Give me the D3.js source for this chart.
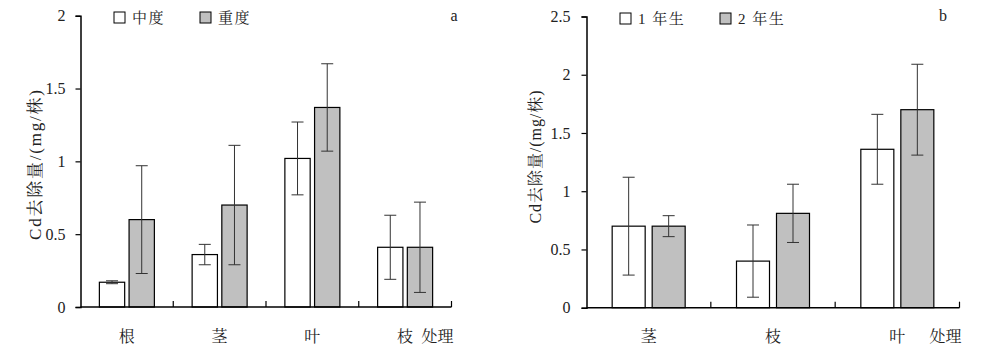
<!DOCTYPE html>
<html>
<head>
<meta charset="utf-8">
<script src="https://cdn.jsdelivr.net/npm/d3@7"></script>
<style>
  body { margin: 0; background: #fff; }
  svg text { font-family: "Liberation Serif", "Noto Serif CJK SC", "Noto Sans CJK SC", serif; fill: #222; }
</style>
</head>
<body>
<div id="chart"></div>
<script>
// panel a
const catsA = ["根", "茎", "叶", "枝"];
const seriesA = ["中度", "重度"];
const meanA = [[0.17, 0.36, 1.02, 0.41], [0.60, 0.70, 1.37, 0.41]];
const errA = [[0.01, 0.07, 0.25, 0.22], [0.37, 0.41, 0.30, 0.31]];
const ticksA = [0, 0.5, 1, 1.5, 2];

// panel b
const catsB = ["茎", "枝", "叶"];
const seriesB = ["1 年生", "2 年生"];
const meanB = [[0.70, 0.40, 1.36], [0.70, 0.81, 1.70]];
const errB = [[0.42, 0.31, 0.30], [0.09, 0.25, 0.39]];
const ticksB = [0, 0.5, 1, 1.5, 2, 2.5];

const colors = ["#ffffff", "#c0c0c0"];

const svg = d3.select("#chart").append("svg")
    .attr("width", 981)
    .attr("height", 352);

function drawPanel(o) {
    const g = svg.append("g");

    const x0 = d3.scaleBand()
        .domain(o.cats)
        .range([o.left, o.right]);

    const x1 = d3.scaleBand()
        .domain(o.series)
        .range([x0.bandwidth() / 2 - o.group / 2, x0.bandwidth() / 2 + o.group / 2])
        .paddingInner(o.inner);

    const y = d3.scaleLinear()
        .domain([0, o.max])
        .range([o.bottom, o.top]);

    const data = o.series.flatMap((s, i) =>
        o.cats.map((c, j) => ({ cat: c, s: s, i: i, v: o.mean[i][j], e: o.err[i][j] })));

    // bars
    g.append("g")
        .selectAll("rect")
        .data(data)
        .join("rect")
        .attr("x", d => x0(d.cat) + x1(d.s))
        .attr("y", d => y(d.v))
        .attr("width", x1.bandwidth())
        .attr("height", d => y(0) - y(d.v))
        .attr("fill", d => colors[d.i])
        .attr("stroke", "#000")
        .attr("stroke-width", 1.2);

    // error bars
    const eb = g.append("g")
        .attr("stroke", "#333")
        .attr("stroke-width", 1)
        .selectAll("g")
        .data(data)
        .join("g")
        .attr("transform", d => `translate(${x0(d.cat) + x1(d.s) + x1.bandwidth() / 2},0)`);
    eb.append("line")
        .attr("y1", d => y(d.v + d.e)).attr("y2", d => y(d.v - d.e));
    eb.append("line")
        .attr("x1", -6).attr("x2", 6)
        .attr("y1", d => y(d.v + d.e)).attr("y2", d => y(d.v + d.e));
    eb.append("line")
        .attr("x1", -6).attr("x2", 6)
        .attr("y1", d => y(d.v - d.e)).attr("y2", d => y(d.v - d.e));

    // y axis
    const ya = g.append("g")
        .attr("transform", `translate(${o.left},0)`)
        .call(d3.axisLeft(y).tickValues(o.ticks).tickFormat(d3.format("")).tickSizeOuter(0).tickSize(5).tickPadding(o.pad));
    ya.select(".domain").attr("stroke-width", 1.5);
    ya.selectAll(".tick line").attr("stroke-width", 1.2);
    ya.selectAll("text").style("font-size", "16px").attr("fill", "#222");

    // x axis
    g.append("line")
        .attr("x1", o.left).attr("x2", o.right)
        .attr("y1", y(0)).attr("y2", y(0))
        .attr("stroke", "#000").attr("stroke-width", 1.5);
    g.append("g")
        .selectAll("line")
        .data(o.cats)
        .join("line")
        .attr("x1", d => x0(d) + x0.bandwidth()).attr("x2", d => x0(d) + x0.bandwidth())
        .attr("y1", y(0)).attr("y2", y(0) - 6)
        .attr("stroke", "#000").attr("stroke-width", 1.2);

    g.append("g")
        .selectAll("text")
        .data(o.cats)
        .join("text")
        .attr("x", d => x0(d) + x0.bandwidth() / 2)
        .attr("y", 342)
        .attr("text-anchor", "middle")
        .style("font-size", "16px")
        .text(d => d);

    g.append("text")
        .attr("x", o.right - 14)
        .attr("y", 342)
        .attr("text-anchor", "middle")
        .style("font-size", "16px")
        .text("处理");

    // y label
    g.append("text")
        .attr("transform", `translate(${o.labelX},${o.labelY}) rotate(-90)`)
        .attr("text-anchor", "middle")
        .attr("dy", "0.35em")
        .attr("textLength", o.labelLen)
        .attr("lengthAdjust", "spacing")
        .style("font-size", o.labelSize + "px")
        .text("Cd去除量/(mg/株)");

    // legend
    const lg = g.append("g")
        .selectAll("g")
        .data(o.series)
        .join("g")
        .attr("transform", (d, i) => `translate(${o.legX + i * o.legStep},${o.legY})`);
    lg.append("rect")
        .attr("width", 11).attr("height", 11)
        .attr("fill", (d, i) => colors[i])
        .attr("stroke", "#000").attr("stroke-width", 1);
    lg.append("text")
        .attr("x", 18).attr("y", 10.5)
        .style("font-size", "15px")
        .style("letter-spacing", "1.5px")
        .text(d => d);

    g.append("text")
        .attr("x", o.tagX).attr("y", 21)
        .attr("text-anchor", "middle")
        .style("font-size", "16px")
        .text(o.tag);
}

drawPanel({
    cats: catsA, series: seriesA, mean: meanA, err: errA, ticks: ticksA, max: 2,
    left: 80.5, right: 451.5, top: 15.7, bottom: 307,
    group: 55, inner: 0.148, pad: 10,
    labelX: 35, labelY: 165, labelSize: 17, labelLen: 150,
    legX: 114, legY: 12, legStep: 86,
    tag: "a", tagX: 454
});

drawPanel({
    cats: catsB, series: seriesB, mean: meanB, err: errB, ticks: ticksB, max: 2.5,
    left: 586.5, right: 959.5, top: 16.5, bottom: 307.7,
    group: 73, inner: 0.175, pad: 11,
    labelX: 535, labelY: 157, labelSize: 16, labelLen: 133,
    legX: 620, legY: 13, legStep: 100,
    tag: "b", tagX: 943
});
</script>
</body>
</html>
